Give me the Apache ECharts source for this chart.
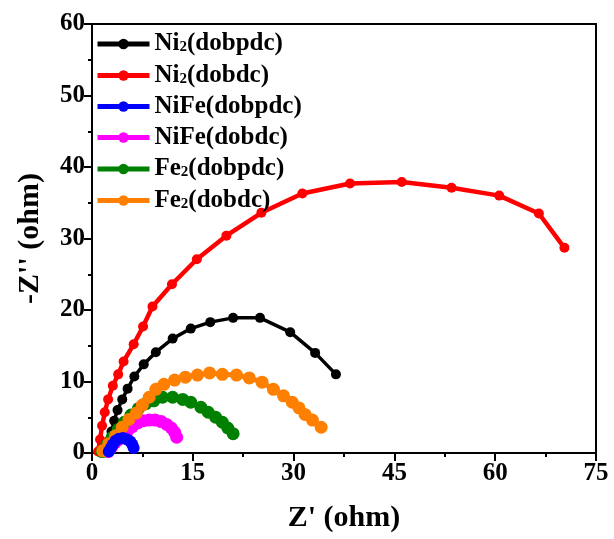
<!DOCTYPE html>
<html>
<head>
<meta charset="utf-8">
<script src="https://cdn.jsdelivr.net/npm/echarts@6/dist/echarts.min.js"></script>
<style>
  html, body { margin: 0; padding: 0; background: #fff; }
  #chart { width: 614px; height: 539px; }
</style>
</head>
<body>
<div id="chart"></div>
<script>
// Nyquist data, [Z', -Z''] in ohm
var names = ['Ni2(dobpdc)', 'Ni2(dobdc)', 'NiFe(dobpdc)', 'NiFe(dobdc)', 'Fe2(dobpdc)', 'Fe2(dobdc)'];
var colors = ['#000000', '#ff0000', '#0000ff', '#ff00ff', '#008000', '#ff8000'];

var ni2Dobpdc = [[1.8,0.5],[2.4,1.6],[2.9,3.0],[3.3,4.5],[3.8,6.0],[4.5,7.5],[5.3,9.0],[6.3,10.7],[7.7,12.4],[9.5,14.1],[12.0,16.0],[14.7,17.4],[17.6,18.3],[21.0,18.9],[25.0,18.9],[29.5,16.9],[33.2,14.0],[36.3,11.0]];
var ni2Dobdc = [[0.9,0.2],[1.2,1.9],[1.5,3.8],[1.9,5.7],[2.4,7.5],[3.1,9.4],[3.9,11.0],[4.7,12.8],[6.2,15.2],[7.6,17.7],[9.0,20.5],[11.9,23.6],[15.6,27.1],[20.0,30.4],[25.2,33.6],[31.3,36.3],[38.4,37.7],[46.1,37.9],[53.5,37.1],[60.6,36.0],[66.5,33.5],[70.3,28.7]];
var nifeDobpdc = [[2.5,0.2],[2.8,0.7],[3.1,1.2],[3.5,1.7],[4.0,2.0],[4.6,2.1],[5.2,1.9],[5.7,1.6],[6.0,1.2],[6.2,0.7]];
var nifeDobdc = [[2.4,0.2],[2.9,0.8],[3.4,1.4],[4.0,1.9],[4.7,2.5],[5.3,3.1],[6.0,3.7],[6.8,4.2],[7.6,4.5],[8.5,4.6],[9.4,4.6],[10.3,4.4],[11.1,4.0],[11.8,3.5],[12.3,2.9],[12.6,2.2]];
var fe2Dobpdc = [[1.5,0.2],[2.2,1.1],[3.0,2.2],[3.9,3.3],[4.8,4.3],[5.8,5.3],[6.9,6.2],[8.0,6.9],[9.2,7.3],[10.5,7.8],[12.0,7.8],[13.5,7.5],[14.7,7.1],[16.2,6.4],[17.3,5.7],[18.4,5.0],[19.4,4.3],[20.2,3.5],[21.0,2.7]];
var fe2Dobdc = [[1.6,0.3],[2.5,1.3],[3.5,2.4],[4.5,3.6],[5.5,4.7],[6.6,5.6],[7.5,6.7],[8.5,7.8],[9.5,8.9],[10.7,9.6],[12.3,10.2],[13.9,10.6],[15.7,10.9],[17.5,11.2],[19.4,11.0],[21.5,10.9],[23.4,10.5],[25.3,9.9],[27.0,8.9],[28.5,8.0],[29.8,7.1],[30.8,6.3],[31.7,5.4],[32.8,4.6],[34.1,3.6]];
var allData = [ni2Dobpdc, ni2Dobdc, nifeDobpdc, nifeDobdc, fe2Dobpdc, fe2Dobdc];
var lineWidths = [3.5, 4.5, 5, 5, 5, 5];
var symbolSizes = [10, 10, 12, 13, 13, 13];
var zLevels = [2, 2, 4, 2, 2, 3];

var xTicks = { min: 0, max: 75, interval: 15 };
var yTicks = { min: 0, max: 60, interval: 10 };

var font = 'Liberation Serif';

var chart = echarts.init(document.getElementById('chart'));

var series = names.map(function (n, i) {
  return {
    name: n,
    type: 'line',
    data: allData[i],
    z: zLevels[i],
    symbol: 'circle',
    symbolSize: symbolSizes[i],
    showAllSymbol: true,
    color: colors[i],
    lineStyle: { width: lineWidths[i], color: colors[i] },
    itemStyle: { color: colors[i] },
    animation: false
  };
});

var option = {
  backgroundColor: '#fff',
  grid: {
    left: 92, right: 18, top: 24, bottom: 86,
    show: true, borderColor: '#000', borderWidth: 2
  },
  legend: {
    orient: 'vertical',
    left: 90, top: 26,
    itemWidth: 52, itemHeight: 13,
    itemGap: 6,
    lineStyle: { width: 5 },
    data: names,
    formatter: function (name) {
      var m = name.match(/^(Ni|Fe)2(.*)$/);
      if (m) return '{t|' + m[1] + '}{s|2}{t|' + m[2] + '}';
      return '{t|' + name + '}';
    },
    textStyle: {
      color: '#000',
      fontFamily: font,
      fontWeight: 'bold',
      fontSize: 25,
      rich: {
        t: { fontFamily: font, fontWeight: 'bold', fontSize: 25, lineHeight: 22, color: '#000' },
        s: { fontFamily: font, fontWeight: 'bold', fontSize: 15, lineHeight: 12, color: '#000', verticalAlign: 'bottom', padding: [9, 0, 0, 0] }
      }
    }
  },
  xAxis: {
    type: 'value',
    min: xTicks.min, max: xTicks.max, interval: xTicks.interval,
    name: "Z' (ohm)",
    nameLocation: 'middle',
    nameGap: 50,
    nameTextStyle: { fontFamily: font, fontWeight: 'bold', fontSize: 30, color: '#000' },
    axisLine: { show: true, lineStyle: { color: '#000', width: 2 } },
    axisTick: { show: true, inside: false, length: 8, lineStyle: { color: '#000', width: 2 } },
    minorTick: { show: true, splitNumber: 2, length: 4, lineStyle: { color: '#000', width: 2 } },
    splitLine: { show: false },
    axisLabel: { fontFamily: font, fontWeight: 'bold', fontSize: 25, color: '#000', margin: 8 }
  },
  yAxis: {
    type: 'value',
    min: yTicks.min, max: yTicks.max, interval: yTicks.interval,
    name: "-Z'' (ohm)",
    nameLocation: 'middle',
    nameGap: 47,
    nameTextStyle: { fontFamily: font, fontWeight: 'bold', fontSize: 30, color: '#000' },
    axisLine: { show: true, lineStyle: { color: '#000', width: 2 } },
    axisTick: { show: true, inside: false, length: 8, lineStyle: { color: '#000', width: 2 } },
    minorTick: { show: true, splitNumber: 2, length: 4, lineStyle: { color: '#000', width: 2 } },
    splitLine: { show: false },
    axisLabel: { fontFamily: font, fontWeight: 'bold', fontSize: 25, color: '#000', margin: 7 }
  },
  series: series
};

chart.setOption(option);
</script>
</body>
</html>
